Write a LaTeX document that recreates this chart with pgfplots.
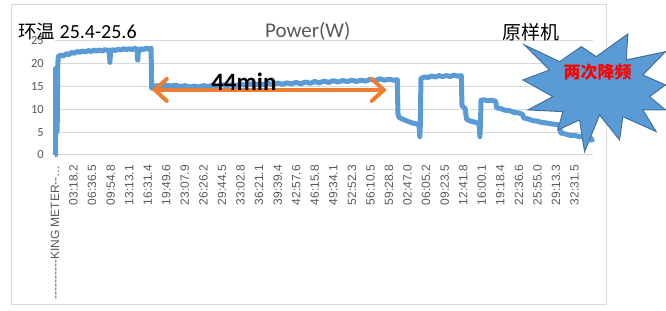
\documentclass[border=0pt]{standalone}
\usepackage{pgfplots}
\pgfplotsset{compat=1.18}
\usepackage{fontspec}
\setmainfont{Carlito}
\newfontfamily\cjk{Noto Sans CJK SC}
\newfontfamily\arial{Liberation Sans}[Ligatures=ResetAll]
\usetikzlibrary{arrows.meta}
\definecolor{lineblue}{HTML}{5B9BD5}
\definecolor{starblue}{HTML}{5B9BD5}
\definecolor{stardark}{HTML}{41719C}
\definecolor{arroworange}{HTML}{ED7D31}
\definecolor{gridgray}{HTML}{D9D9D9}
\definecolor{labgray}{HTML}{595959}
\definecolor{bordergray}{HTML}{D9D9D9}
\begin{document}
\begin{tikzpicture}[x=1bp,y=1bp]
\path (0,0) rectangle (666,-311);
\draw[bordergray, line width=1bp] (11.5,-4) rectangle (607,-305);
\begin{axis}[
  at={(55bp,-155bp)}, anchor=south west,
  scale only axis, width=538bp, height=114bp,
  xmin=0, xmax=28.97, ymin=0, ymax=25,
  ytick={0,5,10,15,20,25},
  xtick={0,...,28},
  xticklabels={----------KING METER--…, 03:18.2, 06:36.5, 09:54.8, 13:13.1, 16:31.4, 19:49.6, 23:07.9, 26:26.2, 29:44.5, 33:02.8, 36:21.1, 39:39.4, 42:57.6, 46:15.8, 49:34.1, 52:52.3, 56:10.5, 59:28.8, 02:47.0, 06:05.2, 09:23.5, 12:41.8, 16:00.1, 19:18.4, 22:36.6, 25:55.0, 29:13.3, 32:31.5},
  xticklabel style={rotate=90, anchor=east, font=\arial\fontsize{12bp}{14bp}\selectfont, text=labgray, inner sep=0pt},
  xticklabel shift=10bp,
  yticklabel style={font=\fontsize{12.5bp}{14bp}\selectfont, text=labgray, inner sep=0pt, xshift=-11bp},
  /pgf/number format/assume math mode=true,
  major tick length=0pt,
  axis line style={draw=none},
  ymajorgrids, grid style={draw=gridgray, line width=1bp},
  clip=false,
]
\addplot[lineblue, line width=5bp, line join=round] coordinates {
(0,0) (0.03,0) (0.04,19) (0.07,12) (0.09,5) (0.12,5.5) (0.15,19.5) (0.18,21.6)
(0.3,21.9) (0.45,21.7) (0.6,22.2) (0.75,22.0) (0.9,22.5) (1.05,22.3) (1.2,22.7)
(1.35,22.5) (1.5,22.8) (1.65,22.6) (1.8,22.9) (1.95,22.7) (2.1,23.0) (2.25,22.8)
(2.4,23.0) (2.55,22.8) (2.7,23.1) (2.85,22.9) (2.93,23.0) (2.96,20.3) (3.0,22.8)
(3.1,23.1) (3.25,22.9) (3.4,23.2) (3.55,23.0) (3.7,23.3) (3.85,23.1) (4.0,23.3)
(4.15,23.1) (4.3,23.4) (4.42,23.2) (4.46,20.8) (4.5,22.6) (4.6,23.3) (4.75,23.1)
(4.9,23.4) (5.05,23.2) (5.18,23.4) (5.21,14.6)
(5.3,14.9) (5.5,15.2) (5.75,15.0) (6.0,15.3) (6.25,15.1) (6.5,15.3) (6.75,15.0)
(7.0,15.2) (7.25,14.9) (7.5,15.1) (7.75,14.9) (8.0,15.2) (8.25,15.0) (8.5,15.3)
(8.75,15.1) (9.0,15.4) (9.25,15.2) (9.5,15.4) (9.75,15.2) (10.0,15.5) (10.25,15.3)
(10.5,15.6) (10.75,15.3) (11.0,15.6) (11.25,15.4) (11.5,15.7) (11.75,15.4) (12.0,15.8)
(12.25,15.5) (12.5,15.8) (12.75,15.6) (13.0,15.9) (13.25,15.6) (13.5,16.0) (13.75,15.7)
(14.0,16.1) (14.25,15.8) (14.5,16.2) (14.75,15.9) (15.0,16.3) (15.25,16.0) (15.5,16.3)
(15.75,16.1) (16.0,16.4) (16.25,16.1) (16.5,16.4) (16.75,16.2) (17.0,16.6) (17.25,16.3)
(17.5,16.7) (17.75,16.4) (18.0,16.6) (18.25,16.4) (18.45,16.5)
(18.48,9.0) (18.55,8.2) (18.75,7.8) (19.0,7.4) (19.25,7.0) (19.5,6.8) (19.62,6.5)
(19.66,4.0) (19.69,6.5) (19.72,16.8) (19.9,17.1) (20.1,17.0) (20.3,17.3) (20.5,17.1)
(20.7,17.4) (20.9,17.2) (21.1,17.4) (21.3,17.2) (21.5,17.5) (21.7,17.3) (21.9,17.4)
(21.93,10.8) (22.1,10.2) (22.18,7.8) (22.4,7.4) (22.6,7.2) (22.85,6.9) (22.9,4.0)
(22.93,6.9) (22.96,12.0) (23.1,12.1) (23.3,11.9) (23.5,12.0) (23.75,11.8)
(23.8,10.3) (24.0,10.2) (24.25,9.8) (24.5,9.7) (24.75,9.3) (25.0,9.2) (25.2,8.9)
(25.25,8.1) (25.5,7.9) (25.75,7.5) (26.0,7.4) (26.25,7.1) (26.5,7.0) (26.75,6.8)
(27.0,6.7) (27.2,6.5) (27.25,4.8) (27.5,4.6) (27.75,4.3) (28.0,4.3) (28.25,4.0)
(28.5,4.0) (28.75,3.8) (28.9,3.6) (28.95,2.8)
};
\draw[arroworange, line width=4bp, {Straight Barb[length=12bp,width=22bp,line cap=round]}-{Straight Barb[length=12bp,width=22bp,line cap=round]}] (axis cs:5.22,14.25) -- (axis cs:17.88,14.25);
\node[font=\bfseries\fontsize{25bp}{28bp}\selectfont, text=black] at (axis cs:10.18,16.0) {44min};
\end{axis}
% titles
\node[anchor=west, font=\fontsize{20bp}{22bp}\selectfont, inner sep=0pt] at (18,-32) {{\cjk\fontsize{18.5bp}{22bp}\selectfont 环温} 25.4-25.6};
\node[font=\fontsize{21bp}{24bp}\selectfont, text=labgray, inner sep=0pt] at (308,-31) {Power(W)};
\node[font=\cjk\fontsize{19bp}{22bp}\selectfont, inner sep=0pt] at (531,-32) {原样机};
% starburst
\filldraw[fill=starblue, draw=stardark, line width=1bp, line join=miter]
 (525,-45) -- (560,-61.7) -- (581.7,-46.7) -- (596.7,-56.7) -- (628.3,-34) -- (626.7,-60)
 -- (666,-51.7) -- (643.3,-75) -- (666,-85) -- (650,-96.7) -- (666,-110) -- (643.3,-110)
 -- (656.7,-131.7) -- (623.3,-116.7) -- (620,-140) -- (600,-115) -- (585,-151.7) -- (580,-120)
 -- (558.3,-130) -- (563.3,-111.7) -- (528.3,-110) -- (553.3,-96.7) -- (523.3,-80) -- (550,-70) -- cycle;
\node[font=\cjk\bfseries\fontsize{17bp}{20bp}\selectfont, text=red, inner sep=0pt] at (598,-72) {两次降频};
\end{tikzpicture}
\end{document}
